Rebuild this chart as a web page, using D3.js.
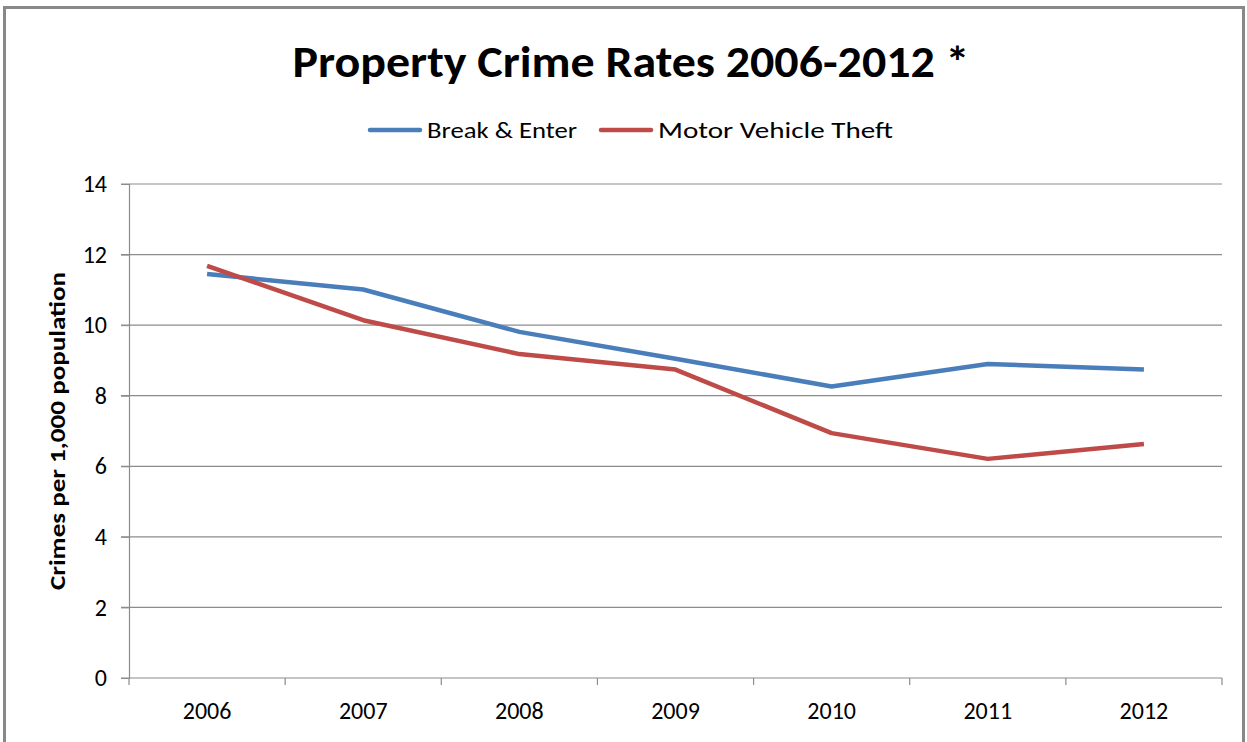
<!DOCTYPE html>
<html>
<head>
  <meta charset="utf-8">
  <title>Property Crime Rates</title>
  <script src="https://cdn.jsdelivr.net/npm/d3@7"></script>
  <style>
    body { margin: 0; background: #fff; }
    text { font-family: Carlito, "Open Sans", "Noto Sans", sans-serif; fill: #000; }
  </style>
</head>
<body>
<script>
  var years = ["2006", "2007", "2008", "2009", "2010", "2011", "2012"];
  var breakEnter = [11.45, 11.01, 9.81, 9.05, 8.26, 8.90, 8.74];
  var motorTheft = [11.68, 10.14, 9.18, 8.74, 6.94, 6.21, 6.63];
  var yTicks = [0, 2, 4, 6, 8, 10, 12, 14];

  var width = 1247, height = 742;
  var plotLeft = 129, plotRight = 1222, plotTop = 184, plotBottom = 678;

  var svg = d3.select("body").append("svg")
    .attr("width", width)
    .attr("height", height);

  // chart frame
  svg.append("rect")
    .attr("x", 4.5).attr("y", 7.5)
    .attr("width", 1239).attr("height", 760)
    .attr("fill", "none")
    .attr("stroke", "#888")
    .attr("stroke-width", 3);

  var x = d3.scaleBand().domain(years).range([plotLeft, plotRight]);
  var y = d3.scaleLinear().domain([0, 14]).range([plotBottom, plotTop]);

  // gridlines
  svg.append("g")
    .selectAll("line")
    .data(yTicks)
    .enter().append("line")
    .attr("x1", plotLeft - 8).attr("x2", plotRight)
    .attr("y1", function(d) { return y(d); })
    .attr("y2", function(d) { return y(d); })
    .attr("stroke", "#8c8c8c")
    .attr("stroke-width", 1.2);

  // y axis
  var yAxis = svg.append("g")
    .attr("transform", "translate(" + plotLeft + ",0)")
    .call(d3.axisLeft(y).tickValues(yTicks).tickSize(8).tickPadding(14));
  yAxis.select(".domain").attr("stroke", "#8c8c8c").attr("stroke-width", 1.2);
  yAxis.selectAll(".tick line").attr("stroke", "#8c8c8c");
  yAxis.selectAll("text").style("font-size", "24px").attr("fill", "#1a1a1a");

  // x axis, ticks at band edges
  var xAxis = svg.append("g")
    .attr("transform", "translate(0," + plotBottom + ")")
    .call(d3.axisBottom(x).tickSize(0).tickPadding(24));
  xAxis.select(".domain").remove();
  xAxis.selectAll("text").style("font-size", "24px").attr("fill", "#1a1a1a");
  svg.append("g")
    .selectAll("line")
    .data(years.concat(["end"]))
    .enter().append("line")
    .attr("x1", function(d, i) { return plotLeft + i * x.bandwidth(); })
    .attr("x2", function(d, i) { return plotLeft + i * x.bandwidth(); })
    .attr("y1", plotBottom).attr("y2", plotBottom + 7)
    .attr("stroke", "#8c8c8c")
    .attr("stroke-width", 1.2);

  var line = d3.line()
    .x(function(d, i) { return x(years[i]) + x.bandwidth() / 2; })
    .y(function(d) { return y(d); });

  svg.append("path").datum(breakEnter)
    .attr("d", line)
    .attr("fill", "none")
    .attr("stroke", "#4a7ebb")
    .attr("stroke-width", 4.5)
    .attr("stroke-linejoin", "round");

  svg.append("path").datum(motorTheft)
    .attr("d", line)
    .attr("fill", "none")
    .attr("stroke", "#be4b48")
    .attr("stroke-width", 4.5)
    .attr("stroke-linejoin", "round");

  // title
  svg.append("text")
    .attr("x", 631).attr("y", 77)
    .attr("text-anchor", "middle")
    .attr("textLength", 677)
    .attr("lengthAdjust", "spacingAndGlyphs")
    .style("font-size", "44px")
    .style("font-weight", "bold")
    .text("Property Crime Rates 2006-2012 *");

  // legend
  var legend = [
    { name: "Break & Enter", color: "#4a7ebb", x: 370, w: 150 },
    { name: "Motor Vehicle Theft", color: "#be4b48", x: 601, w: 235 }
  ];
  var lg = svg.append("g").selectAll("g").data(legend).enter().append("g");
  lg.append("line")
    .attr("x1", function(d) { return d.x; })
    .attr("x2", function(d) { return d.x + 50; })
    .attr("y1", 130).attr("y2", 130)
    .attr("stroke", function(d) { return d.color; })
    .attr("stroke-width", 4.5)
    .attr("stroke-linecap", "round");
  lg.append("text")
    .attr("x", function(d) { return d.x + 57; })
    .attr("y", 138)
    .attr("textLength", function(d) { return d.w; })
    .attr("lengthAdjust", "spacingAndGlyphs")
    .style("font-size", "23px")
    .attr("fill", "#1a1a1a")
    .text(function(d) { return d.name; });

  // y axis label
  svg.append("text")
    .attr("transform", "translate(65,431) rotate(-90)")
    .attr("text-anchor", "middle")
    .attr("textLength", 318)
    .attr("lengthAdjust", "spacingAndGlyphs")
    .style("font-size", "22px")
    .style("font-weight", "bold")
    .text("Crimes per 1,000 population");
</script>
</body>
</html>
